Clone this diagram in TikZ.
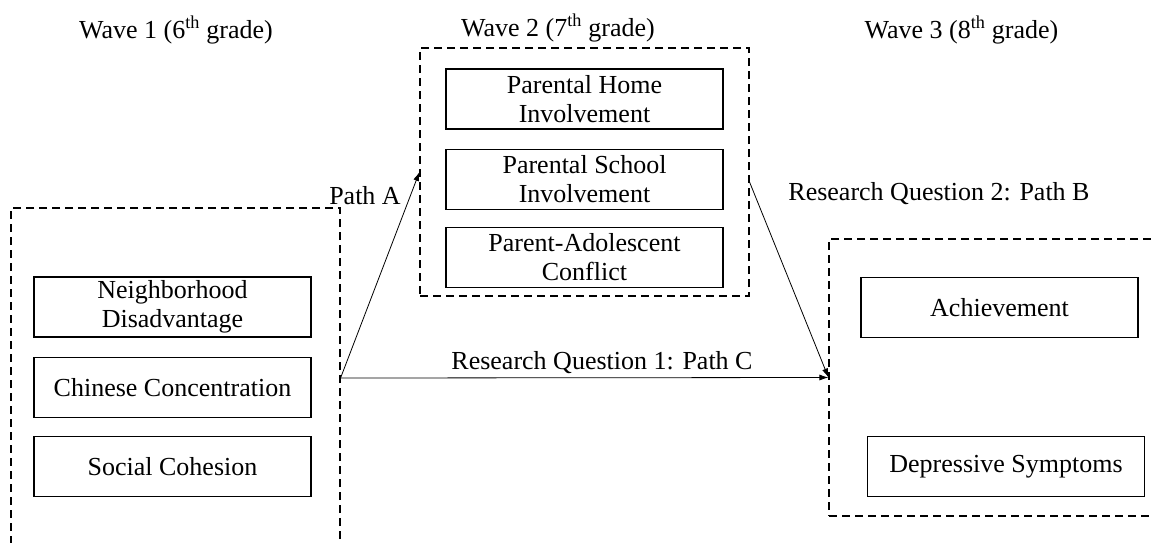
\documentclass[tikz,border=0pt]{standalone}
\usepackage{fontspec}
\setmainfont{Liberation Serif}
\usetikzlibrary{positioning,arrows.meta,calc}
\tikzset{
varbox/.style={
  draw, rectangle, line width=1.1pt,
  minimum width=277pt, minimum height=60pt,
  align=center, inner sep=2pt,
  font=\fontsize{26}{29}\selectfont
},
wavebox/.style={draw, rectangle, line width=1.1pt, dash pattern=on 8pt off 5pt, inner sep=0pt},
lbl/.style={font=\fontsize{26}{29}\selectfont, inner sep=0pt},
patharrow/.style={-{Latex[length=9pt,width=6pt]}, line width=0.8pt},
}

\begin{document}
\begin{tikzpicture}[x=1pt,y=-1pt]
            \useasboundingbox (0,0) rectangle (1151,542);
            \clip (0,0) rectangle (1151,542);
            % dashed wave groups
            \node[wavebox, minimum width=329pt, minimum height=340pt] (wave1) at (175.5,378) {};
            \node[wavebox, minimum width=329pt, minimum height=248pt] (wave2) at (584.5,172) {};
            \node[wavebox, minimum width=341pt, minimum height=277pt] (wave3) at (999.5,377.5) {};
            % wave titles
            \node[lbl] (w1) at (176,30) {Wave 1 (6\textsuperscript{th} grade)};
            \node[lbl] (w2) at (558,28) {Wave 2 (7\textsuperscript{th} grade)};
            \node[lbl] (w3) at (961.5,30) {Wave 3 (8\textsuperscript{th} grade)};
            % wave 1
            \node[varbox] (nd) at (172.5,307) {Neighborhood\\Disadvantage};
            \node[varbox, below=19pt of nd] (cc) {Chinese Concentration};
            \node[varbox, below=18pt of cc] (sc) {Social Cohesion};
            % wave 2
            \node[varbox] (ph) at (584.5,99) {Parental Home\\Involvement};
            \node[varbox, below=19pt of ph] (ps) {Parental School\\Involvement};
            \node[varbox, below=17pt of ps] (pc) {Parent-Adolescent\\Conflict};
            % wave 3
            \node[varbox] (ach) at (999.5,307.5) {Achievement};
            \node[varbox] (dep) at (1006,466.5) {Depressive Symptoms};
            % paths
            \draw[patharrow] (wave1.east) -- (wave2.west);
            \draw[patharrow] ($(wave2.east)+(0,10)$) -- (wave3.west);
            \draw[patharrow] (wave1.east) -- (wave3.west);
            \node[lbl] (pa) at (365,196) {Path A};
            \node[lbl] (pb) at (939,194) {Research Question 2: Path B};
            \node[lbl] (pcl) at (602,363) {Research Question 1: Path C};
\end{tikzpicture}
\end{document}
